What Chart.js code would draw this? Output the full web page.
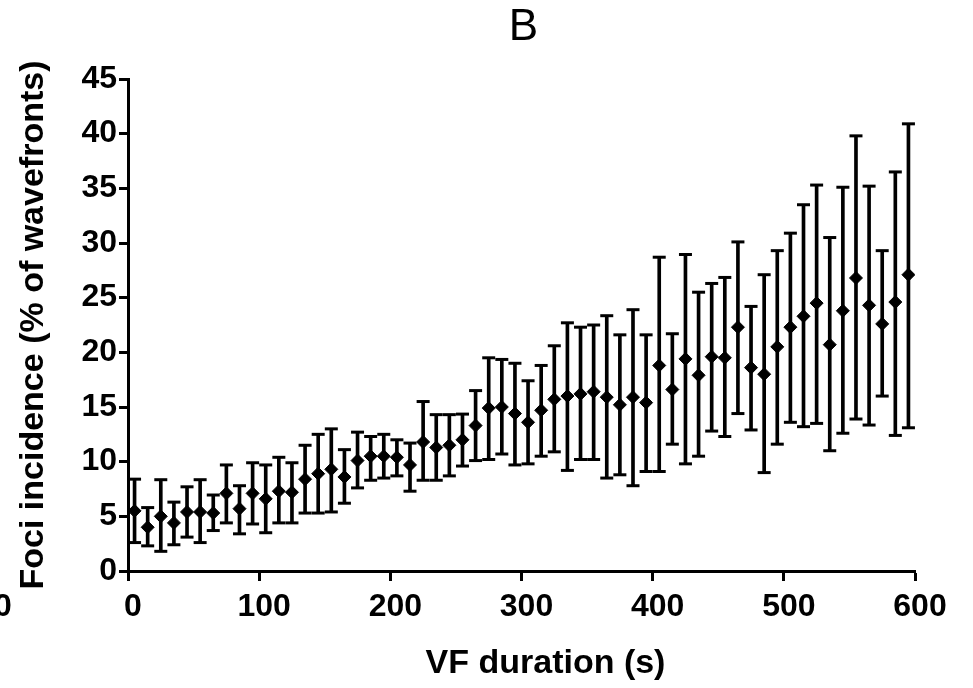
<!DOCTYPE html>
<html>
<head>
<meta charset="utf-8">
<script src="https://cdn.jsdelivr.net/npm/chart.js@4.4.1/dist/chart.umd.min.js"></script>
<style>
  body { margin: 0; background: #fff; }
  #focichart { display: block; }
</style>
</head>
<body>
<canvas id="focichart" width="973" height="688"></canvas>
<script>
// VF duration (s), one point every 10 s
const durations = [5, 15, 25, 35, 45, 55, 65, 75, 85, 95,
  105, 115, 125, 135, 145, 155, 165, 175, 185, 195,
  205, 215, 225, 235, 245, 255, 265, 275, 285, 295,
  305, 315, 325, 335, 345, 355, 365, 375, 385, 395,
  405, 415, 425, 435, 445, 455, 465, 475, 485, 495,
  505, 515, 525, 535, 545, 555, 565, 575, 585, 595];

// Foci incidence (% of wavefronts): mean, top and bottom of error bar
const meanIncidence = [5.5, 4.0, 5.0, 4.4, 5.4, 5.4, 5.3, 7.1, 5.7, 7.1,
  6.6, 7.3, 7.2, 8.4, 8.9, 9.3, 8.6, 10.1, 10.5, 10.5,
  10.4, 9.7, 11.8, 11.3, 11.5, 12.0, 13.3, 14.9, 15.0, 14.4,
  13.6, 14.7, 15.7, 16.0, 16.2, 16.4, 15.9, 15.2, 15.9, 15.4,
  18.8, 16.6, 19.4, 17.9, 19.6, 19.5, 22.3, 18.6, 18.0, 20.5,
  22.3, 23.3, 24.5, 20.7, 23.8, 26.8, 24.3, 22.6, 24.6, 27.1];
const upperBar = [8.4, 5.8, 8.35, 6.3, 7.7, 8.35, 6.95, 9.7, 7.8, 9.9,
  9.7, 10.4, 9.9, 11.5, 12.5, 13.0, 11.1, 12.7, 12.3, 12.5,
  12.0, 11.7, 15.5, 14.3, 14.3, 14.35, 16.5, 19.5, 19.35, 19.0,
  17.4, 18.8, 20.6, 22.7, 22.3, 22.5, 23.35, 21.6, 23.9, 21.6,
  28.7, 21.7, 28.95, 25.5, 26.3, 26.85, 30.1, 24.2, 27.1, 29.3,
  30.9, 33.5, 35.3, 30.5, 35.1, 39.8, 35.2, 29.3, 36.5, 40.9];
const lowerBar = [2.6, 2.3, 1.8, 2.4, 3.1, 2.6, 3.7, 4.4, 3.4, 4.3,
  3.5, 4.4, 4.4, 5.3, 5.3, 5.4, 6.2, 7.6, 8.3, 8.5,
  8.7, 7.3, 8.3, 8.3, 8.7, 9.6, 10.1, 10.2, 10.7, 9.7,
  9.8, 10.5, 10.9, 9.2, 10.2, 10.2, 8.5, 8.8, 7.8, 9.1,
  9.1, 11.6, 9.8, 10.5, 12.8, 12.3, 14.4, 12.9, 9.0, 11.6,
  13.6, 13.2, 13.5, 11.0, 12.6, 13.9, 13.35, 16.0, 12.4, 13.1];

const xTicks = [0, 100, 200, 300, 400, 500, 600];
const yTicks = [0, 5, 10, 15, 20, 25, 30, 35, 40, 45];

const panelTitle = 'B';
const xTitle = 'VF duration (s)';
const yTitle = 'Foci incidence (% of wavefronts)';

const fontName = "'Liberation Sans', Arial, sans-serif";

function pairs(values) {
  return durations.map(function(d, i) { return {x: d, y: values[i]}; });
}

// titles that sit outside the normal scale title spots
const extraText = {
  id: 'extraText',
  afterDraw: function(chart) {
    const ctx = chart.ctx;
    const area = chart.chartArea;
    ctx.save();
    ctx.fillStyle = '#000';
    ctx.textBaseline = 'middle';
    ctx.textAlign = 'center';
    ctx.font = 'normal 44px ' + fontName;
    ctx.fillText(panelTitle, (area.left + area.right) / 2 + 2, 28);
    ctx.font = 'bold 34px ' + fontName;
    ctx.fillText(xTitle, (area.left + area.right) / 2 + 24, 664);
    // leftover of the neighbouring panel's tick label
    ctx.textAlign = 'left';
    ctx.font = 'bold 32px ' + fontName;
    ctx.fillText('0', -6, 607);
    ctx.restore();
  }
};

const ctx = document.getElementById('focichart');
const chart = new Chart(ctx, {
  type: 'scatter',
  data: {
    datasets: [
      {
        // error bar stems
        type: 'bar',
        data: durations.map(function(d, i) { return {x: d, y: [lowerBar[i], upperBar[i]]}; }),
        backgroundColor: '#000',
        borderWidth: 0,
        barThickness: 3,
        order: 3
      },
      {
        data: pairs(upperBar),
        pointStyle: 'line',
        pointRadius: 6.5,
        pointBorderWidth: 3,
        borderColor: '#000',
        order: 2
      },
      {
        data: pairs(lowerBar),
        pointStyle: 'line',
        pointRadius: 6.5,
        pointBorderWidth: 3,
        borderColor: '#000',
        order: 2
      },
      {
        data: pairs(meanIncidence),
        pointStyle: 'rectRot',
        pointRadius: 6.5,
        pointBorderWidth: 1,
        backgroundColor: '#000',
        borderColor: '#000',
        order: 1
      }
    ]
  },
  options: {
    responsive: false,
    animation: false,
    layout: {
      padding: {top: 79, right: 58, bottom: 0, left: 0}
    },
    plugins: {
      legend: {display: false},
      tooltip: {enabled: false}
    },
    scales: {
      x: {
        type: 'linear',
        min: 0,
        max: 600,
        offset: false,
        afterFit: function(scale) { scale.height = 117; },
        afterBuildTicks: function(scale) {
          scale.ticks = xTicks.map(function(v) { return {value: v}; });
        },
        grid: {
          offset: false,
          drawOnChartArea: false,
          drawTicks: true,
          tickLength: 10,
          tickWidth: 3,
          color: '#000'
        },
        border: {display: true, color: '#000', width: 3},
        ticks: {
          color: '#000',
          padding: 7,
          labelOffset: 5,
          maxRotation: 0,
          font: {family: fontName, size: 32, weight: 'bold'}
        }
      },
      y: {
        type: 'linear',
        min: 0,
        max: 45,
        afterFit: function(scale) { scale.width = 128; },
        afterBuildTicks: function(scale) {
          scale.ticks = yTicks.map(function(v) { return {value: v}; });
        },
        grid: {
          drawOnChartArea: false,
          drawTicks: true,
          tickLength: 9,
          tickWidth: 3,
          color: '#000'
        },
        border: {display: true, color: '#000', width: 3},
        ticks: {
          color: '#000',
          padding: 2,
          font: {family: fontName, size: 32, weight: 'bold'}
        },
        title: {
          display: true,
          text: yTitle,
          color: '#000',
          padding: {top: 13, bottom: 0},
          font: {family: fontName, size: 34, weight: 'bold'}
        }
      }
    }
  },
  plugins: [extraText]
});
</script>
</body>
</html>
